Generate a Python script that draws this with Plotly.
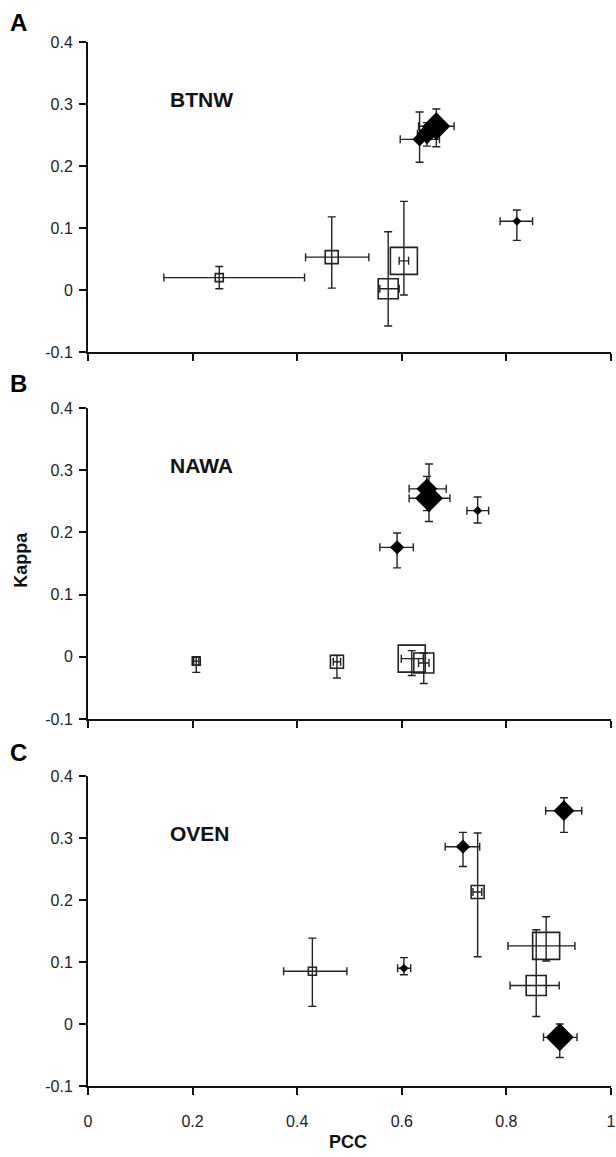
import plotly.graph_objects as go

# ---------------- data ----------------
panel_letters = ["A", "B", "C"]
species = ["BTNW", "NAWA", "OVEN"]

y_ticks = [-0.1, 0, 0.1, 0.2, 0.3, 0.4]
y_tick_text = ["-0.1", "0", "0.1", "0.2", "0.3", "0.4"]
x_ticks = [0, 0.2, 0.4, 0.6, 0.8, 1]
x_tick_text = ["0", "0.2", "0.4", "0.6", "0.8", "1"]

# open squares
sq_rank_A = [1, 2, 3, 4]
sq_pcc_A = [0.251, 0.466, 0.574, 0.604]
sq_pcc_lo_A = [0.145, 0.416, 0.558, 0.595]
sq_pcc_hi_A = [0.414, 0.537, 0.595, 0.613]
sq_kap_A = [0.020, 0.053, 0.002, 0.047]
sq_kap_lo_A = [0.002, 0.003, -0.058, -0.008]
sq_kap_hi_A = [0.038, 0.118, 0.094, 0.143]

sq_rank_B = [1, 2, 4, 3]
sq_pcc_B = [0.207, 0.476, 0.619, 0.642]
sq_pcc_lo_B = [0.202, 0.469, 0.599, 0.632]
sq_pcc_hi_B = [0.212, 0.483, 0.641, 0.652]
sq_kap_B = [-0.007, -0.008, -0.003, -0.010]
sq_kap_lo_B = [-0.025, -0.034, -0.030, -0.043]
sq_kap_hi_B = [0.000, 0.002, 0.010, 0.006]

sq_rank_C = [1, 2, 3, 4]
sq_pcc_C = [0.429, 0.745, 0.857, 0.876]
sq_pcc_lo_C = [0.374, 0.736, 0.807, 0.803]
sq_pcc_hi_C = [0.495, 0.753, 0.901, 0.931]
sq_kap_C = [0.085, 0.213, 0.062, 0.126]
sq_kap_lo_C = [0.0285, 0.1085, 0.012, 0.1015]
sq_kap_hi_C = [0.1385, 0.308, 0.152, 0.173]

# filled diamonds
dm_rank_A = [1, 2, 3, 4]
dm_pcc_A = [0.820, 0.634, 0.648, 0.666]
dm_pcc_lo_A = [0.788, 0.597, 0.630, 0.632]
dm_pcc_hi_A = [0.850, 0.672, 0.666, 0.700]
dm_kap_A = [0.111, 0.243, 0.252, 0.264]
dm_kap_lo_A = [0.080, 0.206, 0.232, 0.231]
dm_kap_hi_A = [0.129, 0.287, 0.270, 0.292]

dm_rank_B = [1, 2, 3, 4]
dm_pcc_B = [0.745, 0.591, 0.648, 0.652]
dm_pcc_lo_B = [0.7245, 0.558, 0.614, 0.614]
dm_pcc_hi_B = [0.766, 0.622, 0.685, 0.692]
dm_kap_B = [0.235, 0.176, 0.270, 0.255]
dm_kap_lo_B = [0.215, 0.143, 0.235, 0.2175]
dm_kap_hi_B = [0.257, 0.199, 0.290, 0.310]

dm_rank_C = [1, 2, 3, 4]
dm_pcc_C = [0.604, 0.717, 0.910, 0.902]
dm_pcc_lo_C = [0.592, 0.683, 0.875, 0.871]
dm_pcc_hi_C = [0.617, 0.749, 0.944, 0.935]
dm_kap_C = [0.090, 0.286, 0.344, -0.0215]
dm_kap_lo_C = [0.0795, 0.254, 0.309, -0.054]
dm_kap_hi_C = [0.107, 0.309, 0.365, 0.000]

# ---------------- styles ----------------
SQ_SIZE = {1: 8, 2: 13, 3: 20, 4: 27}
DM_SIZE = {1: 7, 2: 11, 3: 16, 4: 21.5}
ERR_COLOR = "#222222"
FONT = "Liberation Sans, Arial, sans-serif"

W, H = 616, 1157
ML, MR, MT, MB = 88, 0, 42, 71
plot_h = H - MT - MB
panel_px = [(42, 352), (408, 719), (776, 1086)]


def py(p):
    return 1 - (p - MT) / plot_h


domains = [[py(b), py(t)] for (t, b) in panel_px]

squares = [
    (sq_rank_A, sq_pcc_A, sq_pcc_lo_A, sq_pcc_hi_A, sq_kap_A, sq_kap_lo_A, sq_kap_hi_A),
    (sq_rank_B, sq_pcc_B, sq_pcc_lo_B, sq_pcc_hi_B, sq_kap_B, sq_kap_lo_B, sq_kap_hi_B),
    (sq_rank_C, sq_pcc_C, sq_pcc_lo_C, sq_pcc_hi_C, sq_kap_C, sq_kap_lo_C, sq_kap_hi_C),
]
diamonds = [
    (dm_rank_A, dm_pcc_A, dm_pcc_lo_A, dm_pcc_hi_A, dm_kap_A, dm_kap_lo_A, dm_kap_hi_A),
    (dm_rank_B, dm_pcc_B, dm_pcc_lo_B, dm_pcc_hi_B, dm_kap_B, dm_kap_lo_B, dm_kap_hi_B),
    (dm_rank_C, dm_pcc_C, dm_pcc_lo_C, dm_pcc_hi_C, dm_kap_C, dm_kap_lo_C, dm_kap_hi_C),
]


def err(v, lo, hi):
    plus = [h - c for c, h in zip(v, hi)]
    minus = [c - l for c, l in zip(v, lo)]
    return plus, minus


fig = go.Figure()

for i in range(3):
    xa = "x" if i == 0 else f"x{i+1}"
    ya = "y" if i == 0 else f"y{i+1}"
    for kind, data in (("sq", squares[i]), ("dm", diamonds[i])):
        rank, x, xlo, xhi, y, ylo, yhi = data
        xp, xm = err(x, xlo, xhi)
        yp, ym = err(y, ylo, yhi)
        if kind == "sq":
            marker = dict(symbol="square-open", size=[SQ_SIZE[r] for r in rank],
                          color="#222222", opacity=1,
                          line=dict(width=1.6, color="#222222"))
        else:
            marker = dict(symbol="diamond", size=[DM_SIZE[r] for r in rank],
                          color="#000000", opacity=1, line=dict(width=0))
        fig.add_trace(go.Scatter(
            x=x, y=y, mode="markers", marker=marker, xaxis=xa, yaxis=ya,
            showlegend=False, hoverinfo="skip",
            error_x=dict(type="data", symmetric=False, array=xp, arrayminus=xm,
                         color=ERR_COLOR, thickness=1.4, width=4),
            error_y=dict(type="data", symmetric=False, array=yp, arrayminus=ym,
                         color=ERR_COLOR, thickness=1.4, width=4),
        ))

axis_common = dict(showline=True, linecolor="#111111", linewidth=2,
                   showgrid=False, zeroline=False, ticks="outside",
                   ticklen=7, tickwidth=1.6, tickcolor="#111111",
                   ticklabeloverflow="allow",
                   tickfont=dict(family=FONT, size=16, color="#222222"))

layout = dict(width=W, height=H, margin=dict(l=ML, r=MR, t=MT, b=MB),
              plot_bgcolor="white", paper_bgcolor="white", showlegend=False)

for i in range(3):
    xk = "xaxis" if i == 0 else f"xaxis{i+1}"
    yk = "yaxis" if i == 0 else f"yaxis{i+1}"
    ya = "y" if i == 0 else f"y{i+1}"
    xa = "x" if i == 0 else f"x{i+1}"
    layout[xk] = dict(axis_common, range=[0, 1], tickvals=x_ticks, ticktext=x_tick_text,
                      showticklabels=(i == 2), anchor=ya, domain=[0, 1],
                      ticklabelstandoff=13)
    layout[yk] = dict(axis_common, range=[-0.1, 0.4], tickvals=y_ticks, ticktext=y_tick_text,
                      anchor=xa, domain=domains[i], ticklabelstandoff=3)

fig.update_layout(**layout)

annotations = []
letter_px = [22, 383, 752]
for i in range(3):
    annotations.append(dict(text=f"<b>{panel_letters[i]}</b>", xref="paper", yref="paper",
                            x=(18 - ML) / (W - ML - MR), y=py(letter_px[i]),
                            showarrow=False, xanchor="center", yanchor="middle",
                            font=dict(family=FONT, size=24, color="#000000")))
    xr = "x" if i == 0 else f"x{i+1}"
    yr = "y" if i == 0 else f"y{i+1}"
    annotations.append(dict(text=f"<b>{species[i]}</b>", xref=xr, yref=yr,
                            x=0.153, y=0.308, showarrow=False,
                            xanchor="left", yanchor="middle",
                            font=dict(family=FONT, size=21, color="#111111")))

annotations.append(dict(text="<b>Kappa</b>", xref="paper", yref="paper",
                        x=(20 - ML) / (W - ML - MR), y=py(560), textangle=-90,
                        showarrow=False, xanchor="center", yanchor="middle",
                        font=dict(family=FONT, size=18, color="#111111")))
annotations.append(dict(text="<b>PCC</b>", xref="paper", yref="paper",
                        x=(350 - ML) / (W - ML - MR), y=py(1142),
                        showarrow=False, xanchor="center", yanchor="middle",
                        font=dict(family=FONT, size=18, color="#111111")))
fig.update_layout(annotations=annotations)

fig.write_html("out.html", config={"displayModeBar": False},
               post_script="document.body.style.margin='0';")
